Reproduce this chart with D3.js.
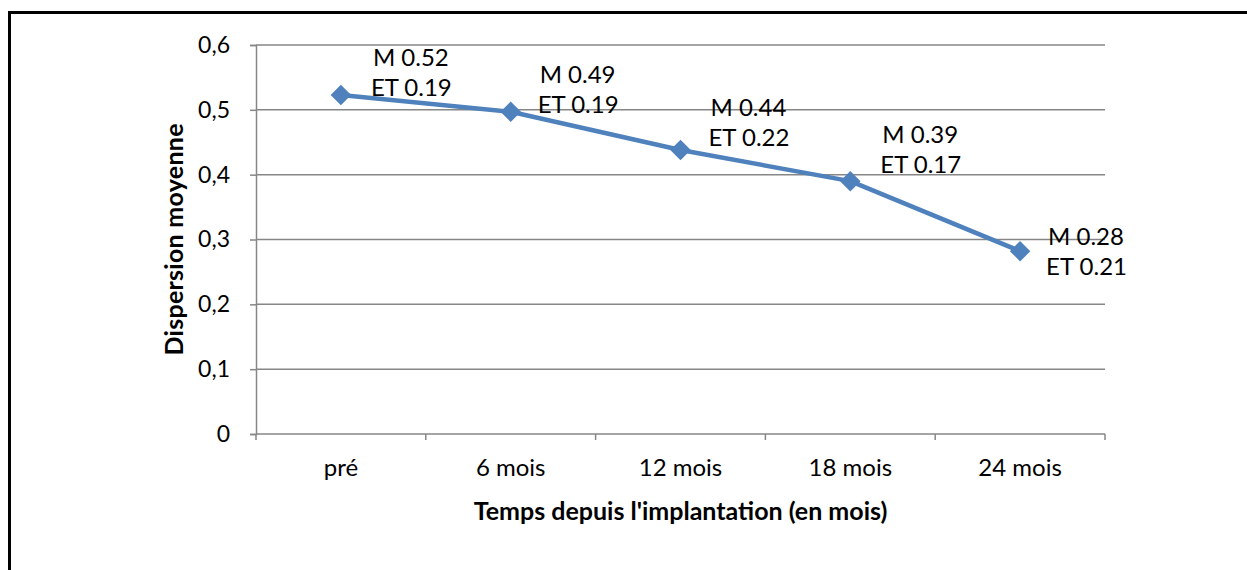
<!DOCTYPE html>
<html>
<head>
<meta charset="utf-8" />
<script src="https://cdnjs.cloudflare.com/ajax/libs/d3/7.8.5/d3.min.js"></script>
<style>
  html, body { margin: 0; padding: 0; background: #fff; }
  text { font-family: Lato, "Open Sans", sans-serif; fill: #000; }
</style>
</head>
<body>
<div id="chart"></div>
<script>
// chart data
var categories = ["pré", "6 mois", "12 mois", "18 mois", "24 mois"];
var means = [0.523, 0.497, 0.438, 0.390, 0.282];
var meanLabels = ["M 0.52", "M 0.49", "M 0.44", "M 0.39", "M 0.28"];
var sdLabels = ["ET 0.19", "ET 0.19", "ET 0.22", "ET 0.17", "ET 0.21"];
var yTicks = [0, 0.1, 0.2, 0.3, 0.4, 0.5, 0.6];

// label placement relative to each point (layout only)
var labelOffsets = [[30, -37], [27, -37], [28, -42], [30, -47], [26, -15]];

var width = 1247, height = 570;
var margin = { top: 45, right: 142, bottom: 136, left: 256 };

var svg = d3.select('#chart')
    .append('svg')
    .attr('width', width)
    .attr('height', height);

// outer frame
svg.append('rect')
    .attr('x', 9.5).attr('y', 12.5)
    .attr('width', width + 20).attr('height', height + 20)
    .attr('fill', 'none')
    .attr('stroke', '#000')
    .attr('stroke-width', 3);

var x = d3.scaleBand()
    .domain(categories)
    .range([margin.left, width - margin.right]);

var y = d3.scaleLinear()
    .domain([0, 0.6])
    .range([height - margin.bottom, margin.top]);

var fmt = function (d) { return d3.format('.1f')(d).replace('.', ','); };

// gridlines
svg.append('g')
    .selectAll('line')
    .data(yTicks.filter(function (d) { return d > 0; }))
    .enter()
    .append('line')
    .attr('x1', margin.left).attr('x2', width - margin.right)
    .attr('y1', function (d) { return y(d); })
    .attr('y2', function (d) { return y(d); })
    .attr('stroke', '#868686')
    .attr('stroke-width', 1.5);

// y axis
var yAxis = svg.append('g')
    .attr('transform', 'translate(' + margin.left + ',0)')
    .call(d3.axisLeft(y).tickValues(yTicks).tickSize(6).tickPadding(20)
        .tickFormat(function (d) { return d === 0 ? '0' : fmt(d); }));
yAxis.select('.domain').attr('stroke', '#868686').attr('stroke-width', 1.5);
yAxis.selectAll('.tick line').attr('stroke', '#868686').attr('stroke-width', 1.5);
yAxis.selectAll('.tick text').style('font-size', '23px').style('font-family', 'Lato, sans-serif');

// x axis with ticks between categories
var xAxis = svg.append('g')
    .attr('transform', 'translate(0,' + y(0) + ')');
xAxis.append('line')
    .attr('x1', margin.left).attr('x2', width - margin.right)
    .attr('stroke', '#868686').attr('stroke-width', 1.5);
var bounds = categories.map(function (c) { return x(c); }).concat([x(categories[categories.length - 1]) + x.bandwidth()]);
xAxis.selectAll('line.tk')
    .data(bounds)
    .enter()
    .append('line')
    .attr('class', 'tk')
    .attr('x1', function (d) { return d; }).attr('x2', function (d) { return d; })
    .attr('y1', 0).attr('y2', 6)
    .attr('stroke', '#868686').attr('stroke-width', 1.5);
xAxis.selectAll('text')
    .data(categories)
    .enter()
    .append('text')
    .attr('x', function (d) { return x(d) + x.bandwidth() / 2; })
    .attr('y', 42)
    .attr('text-anchor', 'middle')
    .style('font-size', '24px')
    .text(function (d) { return d; });

// axis titles
svg.append('text')
    .attr('x', (margin.left + width - margin.right) / 2)
    .attr('y', 520)
    .attr('text-anchor', 'middle')
    .style('font-size', '25px')
    .style('font-weight', 'bold')
    .text("Temps depuis l'implantation (en mois)");

svg.append('text')
    .attr('transform', 'translate(183,' + ((margin.top + y(0)) / 2) + ') rotate(-90)')
    .attr('text-anchor', 'middle')
    .attr('textLength', 232)
    .attr('lengthAdjust', 'spacing')
    .style('font-size', '25px')
    .style('font-weight', 'bold')
    .text('Dispersion moyenne');

// line
var line = d3.line()
    .x(function (d, i) { return x(categories[i]) + x.bandwidth() / 2; })
    .y(function (d) { return y(d); });

svg.append('path')
    .datum(means)
    .attr('d', line)
    .attr('fill', 'none')
    .attr('stroke', '#4F81BD')
    .attr('stroke-width', 4.5)
    .attr('stroke-linejoin', 'round');

// diamond markers
svg.append('g')
    .selectAll('path')
    .data(means)
    .enter()
    .append('path')
    .attr('d', d3.symbol().type(d3.symbolSquare).size(210))
    .attr('transform', function (d, i) {
        return 'translate(' + (x(categories[i]) + x.bandwidth() / 2) + ',' + y(d) + ') rotate(45)';
    })
    .attr('fill', '#4F81BD');

// data labels
var labels = svg.append('g')
    .selectAll('text')
    .data(means)
    .enter()
    .append('text')
    .attr('x', function (d, i) { return x(categories[i]) + x.bandwidth() / 2 + labelOffsets[i][0]; })
    .attr('y', function (d, i) { return y(d) + labelOffsets[i][1]; })
    .style('font-size', '24px');
labels.append('tspan')
    .attr('x', function (d, i) { return x(categories[i]) + x.bandwidth() / 2 + labelOffsets[i][0] + 2; })
    .attr('dy', '0.35em')
    .text(function (d, i) { return meanLabels[i]; });
labels.append('tspan')
    .attr('x', function (d, i) { return x(categories[i]) + x.bandwidth() / 2 + labelOffsets[i][0]; })
    .attr('dy', 30)
    .text(function (d, i) { return sdLabels[i]; });
</script>
</body>
</html>
